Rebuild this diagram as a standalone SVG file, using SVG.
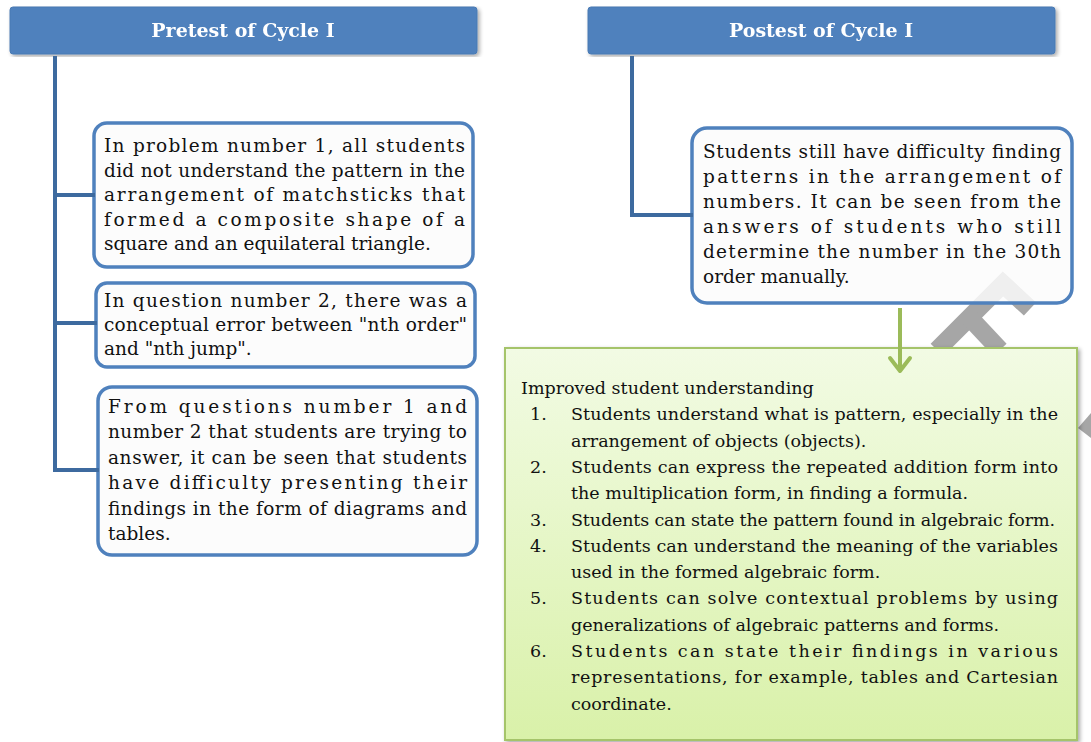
<svg xmlns="http://www.w3.org/2000/svg" width="1091" height="742" viewBox="0 0 1091 742">
<defs>
<style>
.hdr{fill:#4f81bd;stroke:#4a7ab3;stroke-width:1}
.htx{font-family:"DejaVu Serif",serif;font-weight:bold;font-size:19px;fill:#ffffff;text-anchor:middle}
.box{fill:#fcfcfc;fill-opacity:0.85;stroke:#4f81bd;stroke-width:3.5}
.tx{font-family:"DejaVu Serif",serif;font-size:18.5px;fill:#111}
.gt{font-family:"DejaVu Serif",serif;font-size:17.5px;fill:#111}
.con{fill:none;stroke:#3d6a9f;stroke-width:4}
.wm{fill:none;stroke:#a6a6a6;stroke-width:18}
</style>
<linearGradient id="gg" x1="0" y1="0" x2="0" y2="1">
<stop offset="0" stop-color="#f2fbe4"/>
<stop offset="1" stop-color="#d9f1a9"/>
</linearGradient>
<filter id="sh" x="-5%" y="-5%" width="110%" height="110%">
<feGaussianBlur in="SourceAlpha" stdDeviation="2"/>
<feOffset dx="2" dy="2"/>
<feComponentTransfer><feFuncA type="linear" slope="0.35"/></feComponentTransfer>
<feMerge><feMergeNode/><feMergeNode in="SourceGraphic"/></feMerge>
</filter>
</defs>
<rect width="1091" height="742" fill="#ffffff"/>
<g id="watermark">
<path class="wm" d="M937,350 L1003,284 L1030,309"/>
<path class="wm" d="M970,318 L1000,350"/>
<polygon points="1078,428 1091,413 1091,438" fill="#a6a6a6"/>
</g>
<g id="pretest-header" filter="url(#sh)">
<rect class="hdr" x="10" y="7" width="467" height="47" rx="3"/>
<text class="htx" x="243" y="37">Pretest of Cycle I</text>
</g>
<g id="postest-header" filter="url(#sh)">
<rect class="hdr" x="588" y="7" width="467" height="47" rx="3"/>
<text class="htx" x="821" y="37">Postest of Cycle I</text>
</g>
<g id="pre-box1">
<rect class="box" x="94" y="123" width="379" height="144" rx="13"/>
<text class="tx" x="104" y="152" textLength="361" lengthAdjust="spacing">In problem number 1, all students</text>
<text class="tx" x="104" y="176.5" textLength="361" lengthAdjust="spacing">did not understand the pattern in the</text>
<text class="tx" x="104" y="201" textLength="361" lengthAdjust="spacing">arrangement of matchsticks that</text>
<text class="tx" x="104" y="225.5" textLength="361" lengthAdjust="spacing">formed a composite shape of a</text>
<text class="tx" x="104" y="250">square and an equilateral triangle.</text>
</g>
<g id="pre-box2">
<rect class="box" x="96" y="283" width="379" height="84" rx="11"/>
<text class="tx" x="104" y="307" textLength="363" lengthAdjust="spacing">In question number 2, there was a</text>
<text class="tx" x="104" y="331" textLength="363" lengthAdjust="spacing">conceptual error between "nth order"</text>
<text class="tx" x="104" y="355">and "nth jump".</text>
</g>
<g id="pre-box3">
<rect class="box" x="98" y="387" width="379" height="168" rx="14"/>
<text class="tx" x="108" y="413" textLength="359" lengthAdjust="spacing">From questions number 1 and</text>
<text class="tx" x="108" y="438.4" textLength="359" lengthAdjust="spacing">number 2 that students are trying to</text>
<text class="tx" x="108" y="463.8" textLength="359" lengthAdjust="spacing">answer, it can be seen that students</text>
<text class="tx" x="108" y="489.2" textLength="359" lengthAdjust="spacing">have difficulty presenting their</text>
<text class="tx" x="108" y="514.6" textLength="359" lengthAdjust="spacing">findings in the form of diagrams and</text>
<text class="tx" x="108" y="540">tables.</text>
</g>
<g id="post-box">
<rect class="box" x="692" y="128" width="380" height="175" rx="15"/>
<text class="tx" x="703" y="158" textLength="358" lengthAdjust="spacing">Students still have difficulty finding</text>
<text class="tx" x="703" y="183" textLength="358" lengthAdjust="spacing">patterns in the arrangement of</text>
<text class="tx" x="703" y="208" textLength="358" lengthAdjust="spacing">numbers. It can be seen from the</text>
<text class="tx" x="703" y="233" textLength="358" lengthAdjust="spacing">answers of students who still</text>
<text class="tx" x="703" y="258" textLength="358" lengthAdjust="spacing">determine the number in the 30th</text>
<text class="tx" x="703" y="283">order manually.</text>
</g>
<g id="improved-box">
<rect x="505" y="348" width="572" height="392" fill="url(#gg)" stroke="#a5c46a" stroke-width="2" filter="url(#sh)"/>
<text class="gt" x="521" y="394">Improved student understanding</text>
<text class="gt" x="530" y="420.3">1.</text>
<text class="gt" x="571" y="420.3" textLength="487" lengthAdjust="spacing">Students understand what is pattern, especially in the</text>
<text class="gt" x="571" y="446.6">arrangement of objects (objects).</text>
<text class="gt" x="530" y="472.9">2.</text>
<text class="gt" x="571" y="472.9" textLength="487" lengthAdjust="spacing">Students can express the repeated addition form into</text>
<text class="gt" x="571" y="499.2">the multiplication form, in finding a formula.</text>
<text class="gt" x="530" y="525.5">3.</text>
<text class="gt" x="571" y="525.5" textLength="484" lengthAdjust="spacing">Students can state the pattern found in algebraic form.</text>
<text class="gt" x="530" y="551.8">4.</text>
<text class="gt" x="571" y="551.8" textLength="487" lengthAdjust="spacing">Students can understand the meaning of the variables</text>
<text class="gt" x="571" y="578.1">used in the formed algebraic form.</text>
<text class="gt" x="530" y="604.4">5.</text>
<text class="gt" x="571" y="604.4" textLength="487" lengthAdjust="spacing">Students can solve contextual problems by using</text>
<text class="gt" x="571" y="630.7">generalizations of algebraic patterns and forms.</text>
<text class="gt" x="530" y="657">6.</text>
<text class="gt" x="571" y="657" textLength="487" lengthAdjust="spacing">Students can state their findings in various</text>
<text class="gt" x="571" y="683.3" textLength="487" lengthAdjust="spacing">representations, for example, tables and Cartesian</text>
<text class="gt" x="571" y="709.6">coordinate.</text>
</g>
<g id="connectors">
<path class="con" d="M55,56 V470 M53,195 H95 M53,323 H97 M53,470 H99"/>
<path class="con" d="M632,56 V215 H693"/>
<path d="M900,308 V370" fill="none" stroke="#9bbb59" stroke-width="4"/>
<path d="M890,358 L900,371 L910,358" fill="none" stroke="#9bbb59" stroke-width="4" stroke-linecap="round" stroke-linejoin="round"/>
</g>
</svg>
